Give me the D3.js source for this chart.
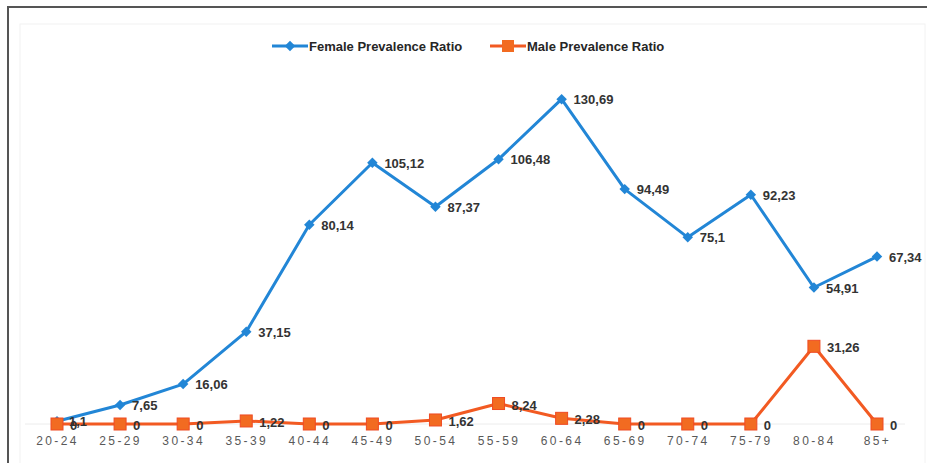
<!DOCTYPE html>
<html>
<head>
<meta charset="utf-8">
<script src="https://cdn.jsdelivr.net/npm/d3@7"></script>
<style>
  body { margin: 0; background: #fff; }
  svg { display: block; font-family: "Liberation Sans", Arial, sans-serif; }
</style>
</head>
<body>
<div id="chart"></div>
<script>
const ageGroups = ["20-24", "25-29", "30-34", "35-39", "40-44", "45-49", "50-54", "55-59", "60-64", "65-69", "70-74", "75-79", "80-84", "85+"]
const femaleRatio = [1.1, 7.65, 16.06, 37.15, 80.14, 105.12, 87.37, 106.48, 130.69, 94.49, 75.1, 92.23, 54.91, 67.34]
const maleRatio = [0, 0, 0, 1.22, 0, 0, 1.62, 8.24, 2.28, 0, 0, 0, 31.26, 0]
const seriesNames = ["Female Prevalence Ratio", "Male Prevalence Ratio"]

const width = 927
const height = 463
const blue = "#2286d6"
const orange = "#f25a22"

const svg = d3.select("#chart").append("svg")
    .attr("width", width)
    .attr("height", height)

// outer frame
svg.append("rect")
    .attr("x", 8).attr("y", 7)
    .attr("width", width).attr("height", height)
    .attr("fill", "none")
    .attr("stroke", "#555").attr("stroke-width", 2)

// faint inner plot frame
svg.append("rect")
    .attr("x", 20).attr("y", 24)
    .attr("width", 905).attr("height", 450)
    .attr("fill", "none")
    .attr("stroke", "#f2f2f2").attr("stroke-width", 1)

const x = d3.scalePoint()
    .domain(ageGroups)
    .range([57, 877])

const y = d3.scaleLinear()
    .domain([0, 140])
    .range([424, 76])

// baseline
svg.append("line")
    .attr("x1", 25).attr("x2", 905)
    .attr("y1", y(0)).attr("y2", y(0))
    .attr("stroke", "#ececec").attr("stroke-width", 1)

const xAxis = svg.append("g")
    .attr("transform", `translate(0,${y(0) + 21})`)
    .call(d3.axisBottom(x).tickSize(0).tickPadding(0))
xAxis.select(".domain").remove()
xAxis.selectAll("text")
    .attr("dy", 0)
    .attr("fill", "#595959")
    .style("font-size", "12px")
    .style("letter-spacing", "2.4px")

const line = d3.line()
    .x((d, i) => x(ageGroups[i]))
    .y((d) => y(d))

svg.append("path")
    .datum(maleRatio)
    .attr("d", line)
    .attr("fill", "none")
    .attr("stroke", orange)
    .attr("stroke-width", 3)
    .attr("stroke-linejoin", "round")

svg.append("path")
    .datum(femaleRatio)
    .attr("d", line)
    .attr("fill", "none")
    .attr("stroke", blue)
    .attr("stroke-width", 3)
    .attr("stroke-linejoin", "round")

const diamond = d3.symbol().type(d3.symbolDiamond2).size(70)

svg.selectAll(".fmark")
    .data(femaleRatio)
    .join("path")
    .attr("class", "fmark")
    .attr("d", diamond)
    .attr("transform", (d, i) => `translate(${x(ageGroups[i])},${y(d)})`)
    .attr("fill", blue)

svg.selectAll(".mmark")
    .data(maleRatio)
    .join("rect")
    .attr("class", "mmark")
    .attr("x", (d, i) => x(ageGroups[i]) - 6)
    .attr("y", (d) => y(d) - 6)
    .attr("width", 12).attr("height", 12)
    .attr("fill", "#f26b21")
    .attr("stroke", "#ef4a23").attr("stroke-width", 1)

const fmt = (v) => String(v).replace(".", ",")

svg.selectAll(".flabel")
    .data(femaleRatio)
    .join("text")
    .attr("class", "flabel")
    .attr("x", (d, i) => x(ageGroups[i]) + 12)
    .attr("y", (d) => y(d) + 5)
    .attr("fill", "#333")
    .style("font-size", "13px")
    .style("font-weight", "bold")
    .text(fmt)

svg.selectAll(".mlabel")
    .data(maleRatio)
    .join("text")
    .attr("class", "mlabel")
    .attr("x", (d, i) => x(ageGroups[i]) + 13)
    .attr("y", (d) => y(d) + 6)
    .attr("fill", "#333")
    .style("font-size", "13px")
    .style("font-weight", "bold")
    .text(fmt)

// legend
const legend = svg.append("g").attr("transform", "translate(0,46)")
const legendItems = [
    { name: seriesNames[0], x0: 272, color: blue, marker: "diamond" },
    { name: seriesNames[1], x0: 490, color: orange, marker: "square" }
]
legendItems.forEach((item) => {
    legend.append("line")
        .attr("x1", item.x0).attr("x2", item.x0 + 36)
        .attr("stroke", item.color).attr("stroke-width", 3)
    if (item.marker === "diamond") {
        legend.append("path")
            .attr("d", diamond)
            .attr("transform", `translate(${item.x0 + 18},0)`)
            .attr("fill", item.color)
    } else {
        legend.append("rect")
            .attr("x", item.x0 + 12).attr("y", -6)
            .attr("width", 12).attr("height", 12)
            .attr("fill", "#f26b21")
    }
    legend.append("text")
        .attr("x", item.x0 + 37)
        .attr("y", 5)
        .attr("fill", "#262626")
        .style("font-size", "13px")
        .style("font-weight", "bold")
        .text(item.name)
})
</script>
</body>
</html>
